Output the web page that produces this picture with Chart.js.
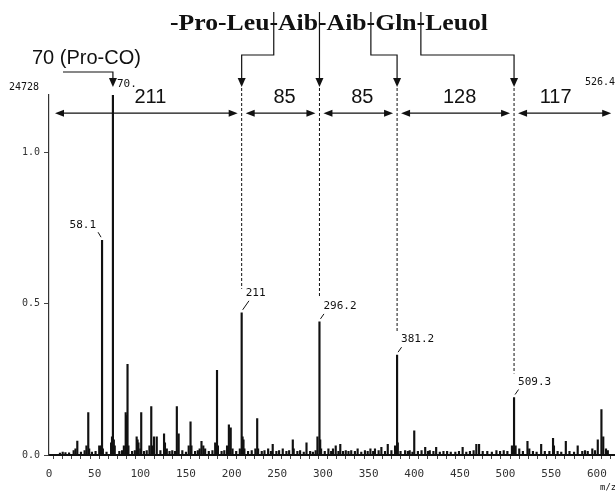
<!DOCTYPE html>
<html>
<head>
<meta charset="utf-8">
<script src="https://cdn.jsdelivr.net/npm/chart.js@4.4.0/dist/chart.umd.min.js"></script>
<style>
  html, body { margin: 0; padding: 0; background: #fff; }
</style>
</head>
<body>
<canvas id="spec" width="615" height="495"></canvas>
<script>
// m/z of each line and its relative height (1.0 tick = full tick on the y axis)
const mzValues = [12, 15, 18, 22, 27, 29, 31, 35, 39, 41, 43, 44, 47, 51, 55, 56, 57, 58.1, 59, 63, 68, 69, 70, 71, 72, 77,
  80, 82, 84, 85, 86, 87, 91, 94, 96, 97, 98, 100, 101, 104, 107, 110, 112, 113, 115, 118, 122, 126, 127, 129, 132, 135,
  138, 140, 142, 146, 150, 153, 155, 156, 160, 163, 165, 167, 169, 171, 175, 179, 182, 184, 185, 189, 192, 195, 197, 199, 201, 205, 209,
  211, 212, 213, 214, 218, 222, 226, 228, 229, 233, 236, 240, 243, 245, 249, 252, 256, 260, 263, 267, 268, 272, 275, 279, 282, 286, 289,
  292, 294, 296.2, 297, 298, 302, 306, 309, 311, 314, 317, 319, 322, 325, 328, 331, 335, 338, 342, 346, 349, 352, 355, 357, 361, 364, 368, 371, 375, 379,
  381.2, 382, 385, 390, 393, 395, 398, 400, 404, 408, 412, 415, 417, 421, 424, 428, 432, 436, 440, 445, 449, 453, 457, 461, 465, 468, 471, 475, 480, 485, 490,
  494, 498, 502, 507, 509.3, 511, 515, 519, 524, 526, 530, 534, 539, 543, 548, 552, 553, 557, 561, 566, 570, 575, 579, 584, 587, 590, 595, 598, 601, 605,
  607, 610, 612];
const intensities = [0.006, 0.01, 0.008, 0.007, 0.015, 0.02, 0.046, 0.01, 0.015, 0.03, 0.14, 0.02, 0.01, 0.012, 0.03, 0.02, 0.03, 0.71, 0.02, 0.01, 0.04, 0.06, 1.19, 0.05, 0.03, 0.012,
  0.015, 0.03, 0.14, 0.13, 0.30, 0.03, 0.012, 0.015, 0.06, 0.05, 0.04, 0.02, 0.14, 0.012, 0.015, 0.03, 0.16, 0.03, 0.06, 0.06, 0.015, 0.07, 0.04, 0.02, 0.012, 0.015,
  0.012, 0.16, 0.07, 0.015, 0.01, 0.03, 0.11, 0.03, 0.012, 0.015, 0.02, 0.045, 0.03, 0.02, 0.012, 0.015, 0.04, 0.28, 0.03, 0.012, 0.015, 0.03, 0.10, 0.09, 0.02, 0.012, 0.02,
  0.47, 0.06, 0.05, 0.02, 0.012, 0.015, 0.02, 0.12, 0.02, 0.012, 0.015, 0.02, 0.012, 0.035, 0.012, 0.015, 0.02, 0.012, 0.015, 0.05, 0.02, 0.012, 0.015, 0.01, 0.04, 0.012, 0.01,
  0.015, 0.06, 0.44, 0.05, 0.02, 0.012, 0.02, 0.012, 0.02, 0.03, 0.012, 0.035, 0.012, 0.015, 0.012, 0.015, 0.012, 0.02, 0.01, 0.015, 0.012, 0.02, 0.012, 0.02, 0.015, 0.025, 0.012, 0.035, 0.015, 0.03,
  0.33, 0.04, 0.012, 0.015, 0.012, 0.015, 0.01, 0.08, 0.012, 0.015, 0.025, 0.012, 0.015, 0.012, 0.025, 0.01, 0.012, 0.012, 0.01, 0.01, 0.012, 0.025, 0.01, 0.012, 0.015, 0.035, 0.035, 0.012, 0.012, 0.01, 0.015,
  0.012, 0.015, 0.012, 0.03, 0.19, 0.03, 0.02, 0.012, 0.045, 0.02, 0.012, 0.01, 0.035, 0.012, 0.012, 0.055, 0.03, 0.012, 0.01, 0.045, 0.012, 0.01, 0.03, 0.012, 0.015, 0.012, 0.02, 0.015, 0.05, 0.15,
  0.06, 0.02, 0.015];

const yTicks = [0, 0.5, 1.0];
const fullScale = '24728';

// labelled peaks
const labelMz = [58.1, 70, 211, 296.2, 381.2, 509.3];
const labelText = ['58.1', '70.', '211', '296.2', '381.2', '509.3'];

// sequence and fragment gaps (b-ion boundaries)
const sequence = '-Pro-Leu-Aib-Aib-Gln-Leuol';
const boundaries = [0, 211, 296.2, 381.2, 509.3, 626.4];
const gapLabels = ['211', '85', '85', '128', '117'];
const proLabel = '70 (Pro-CO)';
const topRightLabel = '526.4';

function arrowHead(ctx, x, y, dir) {
  // dir: 'down', 'left', 'right'
  ctx.beginPath();
  if (dir === 'down') { ctx.moveTo(x, y); ctx.lineTo(x - 4, y - 9); ctx.lineTo(x + 4, y - 9); }
  if (dir === 'left') { ctx.moveTo(x, y); ctx.lineTo(x + 9, y - 3.5); ctx.lineTo(x + 9, y + 3.5); }
  if (dir === 'right') { ctx.moveTo(x, y); ctx.lineTo(x - 9, y - 3.5); ctx.lineTo(x - 9, y + 3.5); }
  ctx.closePath();
  ctx.fill();
}

const annotations = {
  id: 'annotations',
  afterDatasetsDraw(chart) {
    const ctx = chart.ctx;
    const xs = chart.scales.x, ys = chart.scales.y;
    const area = chart.chartArea;
    const top = area.top;
    const rowY = ys.getPixelForValue(1.13);
    ctx.save();
    ctx.fillStyle = '#111';
    ctx.strokeStyle = '#111';

    // full scale count
    ctx.font = '10px "DejaVu Sans Mono"';
    ctx.textBaseline = 'middle';
    ctx.textAlign = 'left';
    ctx.fillText(fullScale, 9, top - 8);

    // sequence title
    ctx.font = 'bold 23px "Liberation Serif"';
    ctx.textBaseline = 'alphabetic';
    const titleW = 318, titleX = 170, titleY = 30;
    const sx = titleW / ctx.measureText(sequence).width;
    ctx.save();
    ctx.translate(titleX, titleY);
    ctx.scale(sx, 1);
    ctx.fillText(sequence, 0, 0);
    ctx.restore();

    // brackets from the sequence down to the fragment lines
    const hyW = ctx.measureText('-').width;
    let hy = [];
    for (let k = 1; k < sequence.length; k++) if (sequence[k] === '-') hy.push(k);
    hy = hy.slice(1); // skip Pro-Leu
    ctx.lineWidth = 1.2;
    hy.forEach((k, i) => {
      const hx = titleX + sx * (ctx.measureText(sequence.slice(0, k)).width + hyW / 2);
      const tx = xs.getPixelForValue(boundaries[i + 1]);
      ctx.beginPath();
      if (Math.abs(hx - tx) > 6) {
        ctx.moveTo(hx, 12);
        ctx.lineTo(hx, 55);
        ctx.lineTo(tx, 55);
      } else {
        ctx.moveTo(tx, 12);
      }
      ctx.lineTo(tx, 80);
      ctx.stroke();
      arrowHead(ctx, tx, 87, 'down');
    });

    // Pro-CO arrow
    ctx.font = '20px "Liberation Sans"';
    ctx.fillText(proLabel, 32, 64);
    const p70 = xs.getPixelForValue(70);
    ctx.beginPath();
    ctx.moveTo(63, 72);
    ctx.lineTo(p70, 72);
    ctx.lineTo(p70, 80);
    ctx.stroke();
    arrowHead(ctx, p70, 87, 'down');

    // dashed fragment lines
    ctx.setLineDash([3, 2]);
    ctx.lineWidth = 1;
    for (let i = 1; i < boundaries.length - 1; i++) {
      const mz = boundaries[i];
      const px = xs.getPixelForValue(mz);
      const idx = mzValues.indexOf(mz);
      const peakTop = ys.getPixelForValue(intensities[idx]);
      ctx.beginPath();
      ctx.moveTo(px, 88);
      ctx.lineTo(px, peakTop - 24);
      ctx.stroke();
    }
    ctx.setLineDash([]);

    // double-headed gap arrows
    ctx.lineWidth = 1.2;
    ctx.font = '20px "Liberation Sans"';
    ctx.textAlign = 'center';
    for (let i = 0; i < gapLabels.length; i++) {
      let a = i === 0 ? area.left + 6 : xs.getPixelForValue(boundaries[i]) + 4;
      let b = Math.min(xs.getPixelForValue(boundaries[i + 1]) - 4, area.right - 3);
      ctx.beginPath();
      ctx.moveTo(a + 4, rowY);
      ctx.lineTo(b - 4, rowY);
      ctx.stroke();
      arrowHead(ctx, a, rowY, 'left');
      arrowHead(ctx, b, rowY, 'right');
      const cx = i === gapLabels.length - 1 ? (a + b) / 2 - 9 : (a + b) / 2 + 4;
      ctx.fillText(gapLabels[i], cx, rowY - 10);
    }

    // peak labels
    ctx.font = '11px "DejaVu Sans Mono"';
    ctx.textAlign = 'left';
    ctx.lineWidth = 1;
    labelMz.forEach((mz, i) => {
      const px = xs.getPixelForValue(mz);
      const v = intensities[mzValues.indexOf(mz)];
      let py = Math.max(ys.getPixelForValue(v), top);
      if (mz === 70) {
        ctx.fillText(labelText[i], px + 4, top - 8);
        return;
      }
      ctx.beginPath();
      if (mz < 60) {
        ctx.moveTo(px - 1, py - 3);
        ctx.lineTo(px - 4, py - 8);
        ctx.stroke();
        ctx.textAlign = 'right';
        ctx.fillText(labelText[i], px - 6, py - 12);
        ctx.textAlign = 'left';
      } else {
        const d = mz === 211 ? 9 : 5;
        ctx.moveTo(px + 1, py - 3);
        ctx.lineTo(px + 1 + d * 0.7, py - 3 - d);
        ctx.stroke();
        ctx.fillText(labelText[i], px + 4, py - 8 - d);
      }
    });

    ctx.font = '10px "DejaVu Sans Mono"';
    ctx.fillText(topRightLabel, 585, top - 10);
    ctx.font = '9px "DejaVu Sans Mono"';
    ctx.fillText('m/z', 600, 490);
    ctx.restore();
  }
};

new Chart(document.getElementById('spec'), {
  type: 'bar',
  data: {
    datasets: [{
      data: mzValues.map((m, i) => ({ x: m, y: intensities[i] })),
      backgroundColor: '#111',
      borderWidth: 0,
      barThickness: 1.5
    }]
  },
  options: {
    responsive: false,
    animation: false,
    devicePixelRatio: 1,
    layout: { padding: { top: 95, right: 0, left: 0, bottom: 0 } },
    plugins: { legend: { display: false }, tooltip: { enabled: false } },
    scales: {
      x: {
        type: 'linear',
        min: 0,
        max: 619,
        offset: false,
        afterFit: (s) => { s.height = 40; },
        afterBuildTicks: (s) => {
          const t = [];
          for (let v = 0; v <= 610; v += 10) t.push({ value: v });
          s.ticks = t;
        },
        ticks: {
          autoSkip: false,
          maxRotation: 0,
          padding: 9,
          color: '#333',
          font: { family: 'DejaVu Sans Mono', size: 11 },
          callback: (v) => (v % 50 === 0 ? String(v) : '')
        },
        grid: { drawOnChartArea: false, drawTicks: true, tickLength: 4, color: '#444' },
        border: { display: true, color: '#111', width: 2 }
      },
      y: {
        min: 0,
        max: 1.19,
        afterFit: (s) => { s.width = 49; },
        afterBuildTicks: (s) => { s.ticks = yTicks.map((v) => ({ value: v })); },
        ticks: {
          padding: 4,
          color: '#333',
          font: { family: 'DejaVu Sans Mono', size: 10 },
          callback: (v) => v.toFixed(1)
        },
        grid: { drawOnChartArea: false, drawTicks: true, tickLength: 5, color: '#444' },
        border: { display: true, color: '#333', width: 1.2, dash: [9, 3, 2, 3] }
      }
    }
  },
  plugins: [annotations]
});
</script>
</body>
</html>
